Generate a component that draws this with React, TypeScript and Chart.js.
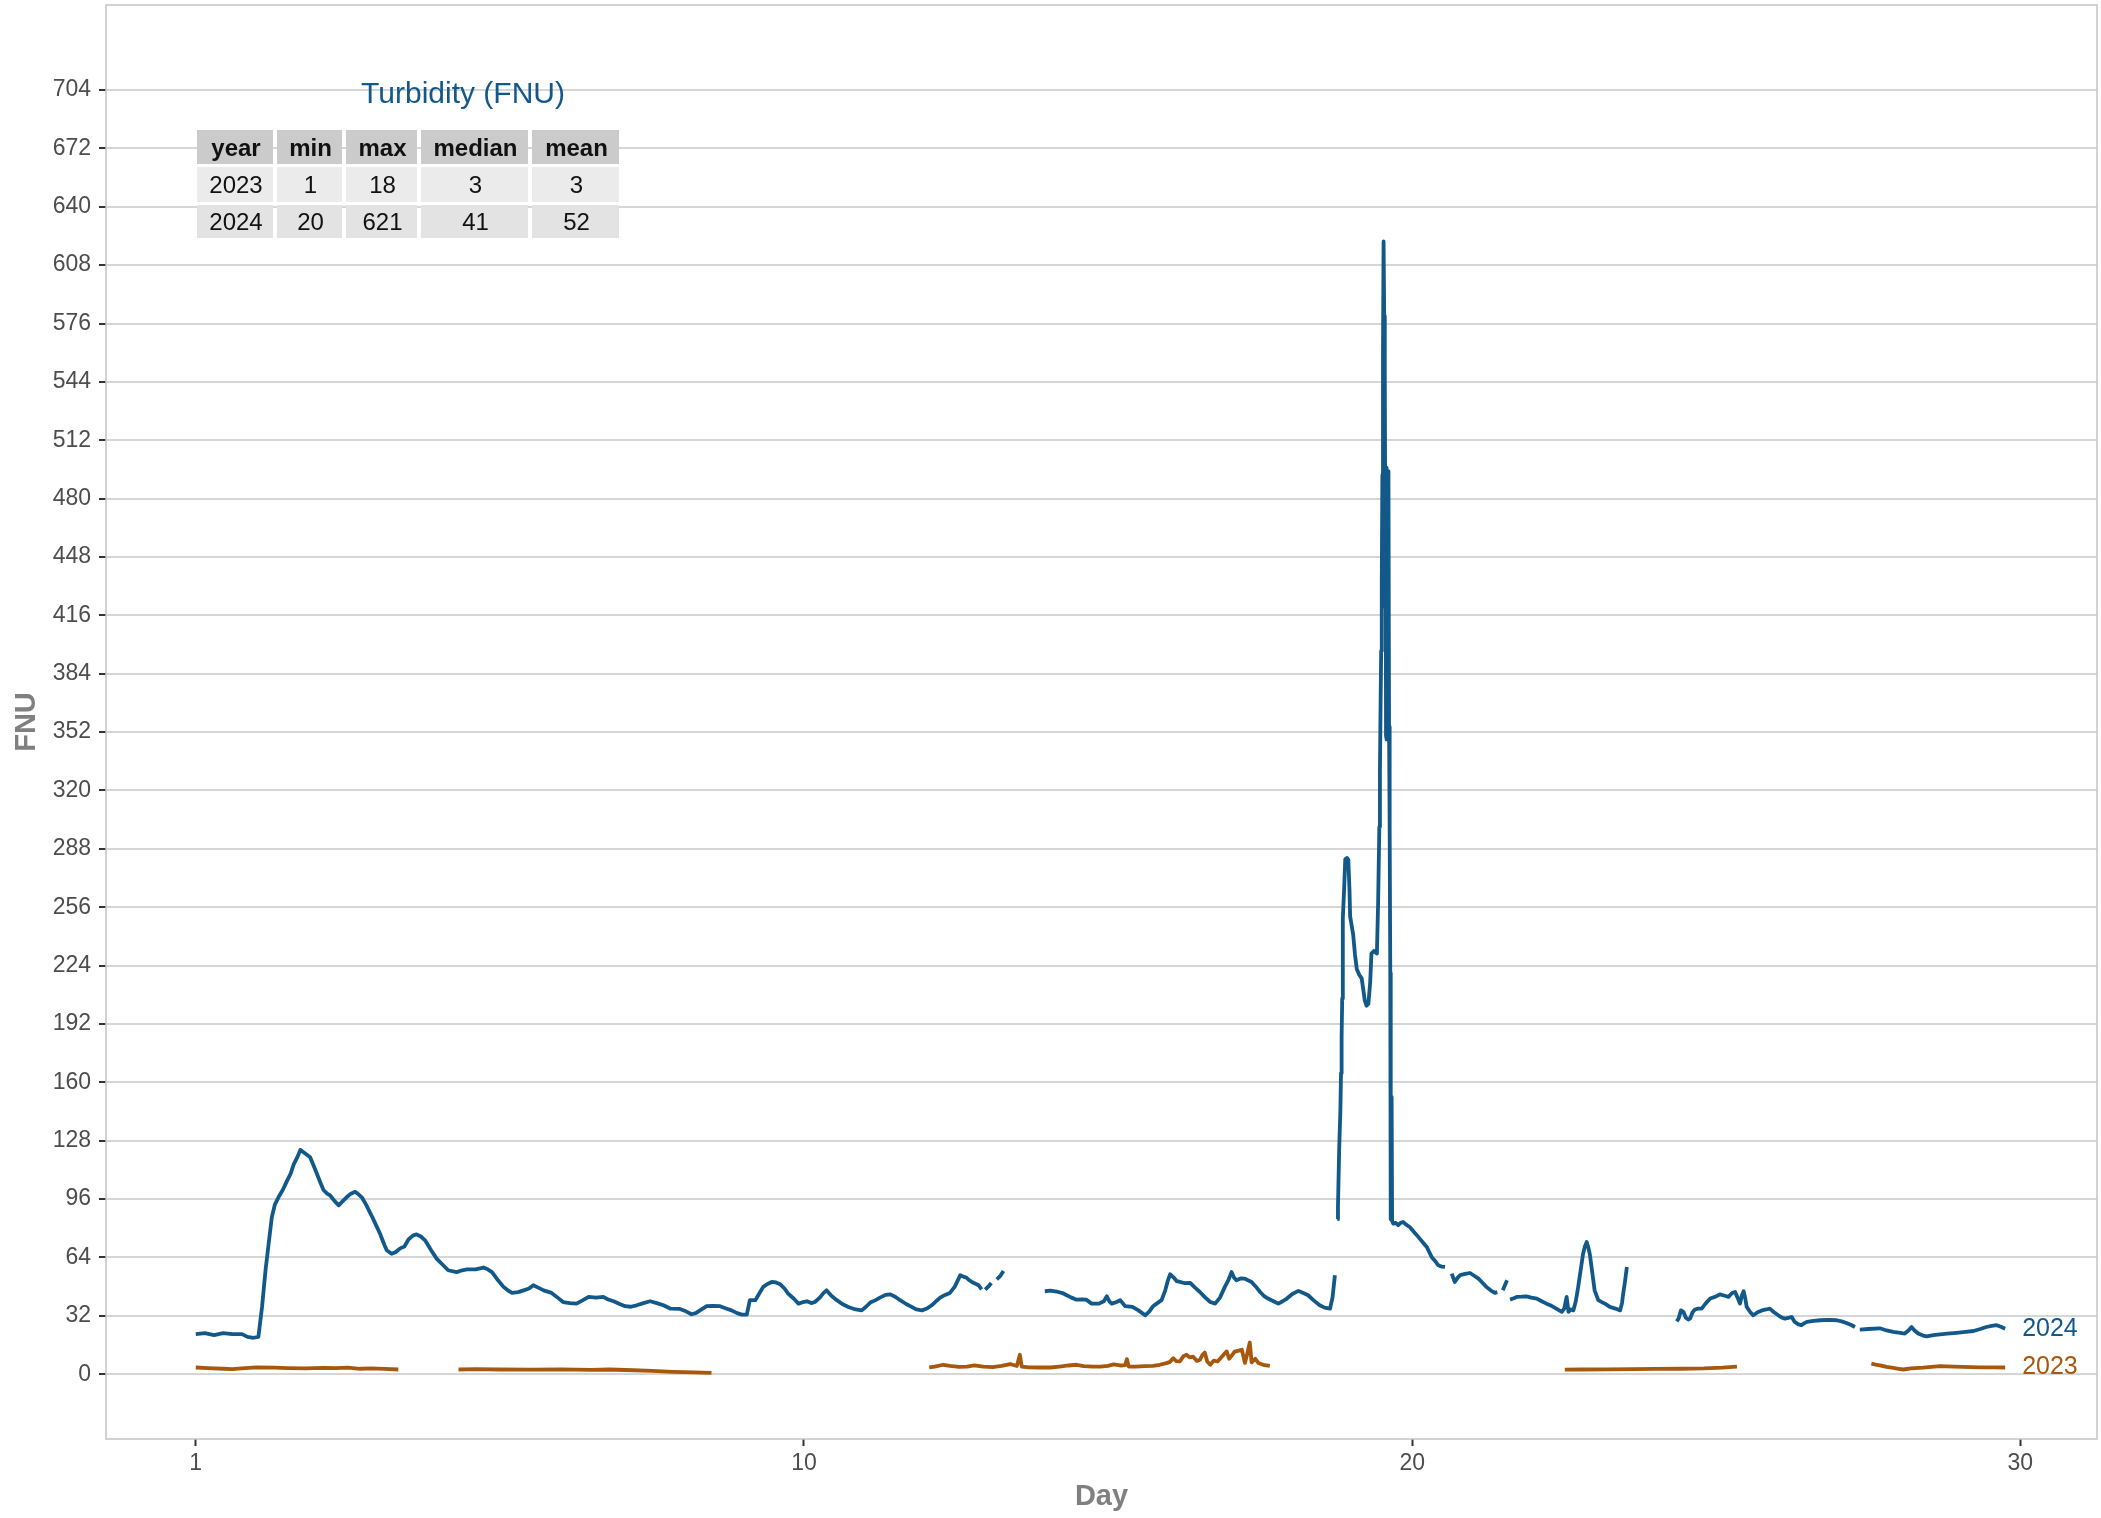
import React, { useEffect, useRef } from 'react';
import { Chart, registerables } from 'chart.js';

Chart.register(...registerables);

// ---------------- data ----------------
const X_TICK_POS = [0, 10, 20, 30];
const X_TICK_LABELS = ['1', '10', '20', '30'];
const Y_TICKS = [0, 32, 64, 96, 128, 160, 192, 224, 256, 288, 320, 352, 384, 416, 448, 480, 512, 544, 576, 608, 640, 672, 704];
const SERIES_LABELS = ['2024', '2023'];
const X_TITLE = 'Day';
const Y_TITLE = 'FNU';

// [day offset, FNU]; null = gap in record
const FNU_2024: [number, number | null][] = [
  [0, 22], [0.15, 22.5], [0.3, 21.5], [0.45, 22.5], [0.6, 22], [0.76, 22], [0.85, 20.5], [0.95, 20], [1.03, 20.5],
  [1.09, 37], [1.15, 58], [1.2, 72], [1.25, 86], [1.3, 93], [1.36, 97], [1.43, 101], [1.5, 106], [1.56, 110],
  [1.61, 115], [1.67, 119], [1.72, 123], [1.76, 122], [1.8, 121], [1.88, 119], [1.93, 115], [1.99, 110], [2.05, 105],
  [2.1, 101], [2.16, 99], [2.21, 98], [2.28, 95], [2.35, 92.6], [2.42, 95], [2.48, 97], [2.55, 99], [2.62, 100],
  [2.68, 98.5], [2.73, 97], [2.8, 93], [2.89, 87], [2.96, 82], [3.03, 77], [3.1, 71], [3.14, 68], [3.22, 66],
  [3.29, 67], [3.36, 69], [3.43, 70], [3.5, 74], [3.57, 76], [3.63, 76.7], [3.7, 75.5], [3.77, 73.4], [3.87, 68],
  [3.96, 63.4], [4.06, 60], [4.15, 57], [4.29, 56], [4.38, 57], [4.46, 57.5], [4.6, 57.5], [4.73, 58.5], [4.8, 57.5],
  [4.87, 56], [4.97, 51.5], [5.06, 47.9], [5.13, 46], [5.2, 44.6], [5.3, 45], [5.39, 46], [5.48, 47], [5.55, 48.8],
  [5.63, 47.5], [5.72, 46], [5.85, 44.6], [5.95, 42], [6.04, 39.6], [6.15, 39], [6.26, 38.7], [6.36, 40.5], [6.46, 42.4],
  [6.58, 42], [6.7, 42.4], [6.78, 41], [6.87, 40], [6.97, 38.5], [7.06, 37.3], [7.15, 37], [7.25, 37.8], [7.36, 39],
  [7.47, 40], [7.58, 39], [7.69, 37.8], [7.8, 36], [7.96, 35.8], [8.06, 34.5], [8.15, 32.9], [8.22, 33.5], [8.29, 35],
  [8.4, 37.3], [8.5, 37.5], [8.62, 37.3], [8.72, 36], [8.81, 35], [8.9, 33.5], [8.98, 32.7], [9.06, 32.7], [9.11, 40.6],
  [9.2, 40.6], [9.27, 44.5], [9.33, 47.9], [9.4, 49.5], [9.47, 50.6], [9.54, 50.3], [9.61, 49.3], [9.68, 47], [9.74, 44.2],
  [9.83, 41.5], [9.91, 38.7], [9.98, 39.5], [10.05, 40], [10.12, 39], [10.18, 39.6], [10.26, 42], [10.32, 44.5], [10.37, 46],
  [10.45, 43], [10.54, 40.6], [10.63, 38.5], [10.73, 36.9], [10.85, 35.5], [10.95, 35], [11.02, 37], [11.09, 39.3],
  [11.17, 40.5], [11.25, 42], [11.34, 43.5], [11.42, 43.8], [11.5, 42.5], [11.58, 40.6], [11.68, 38.5], [11.77, 36.9],
  [11.85, 35.5], [11.94, 35], [12.02, 36], [12.1, 37.8], [12.17, 40], [12.24, 42], [12.32, 43.5], [12.4, 44.6], [12.48, 48],
  [12.57, 54.3], [12.62, 53.5], [12.67, 53], [12.72, 51.5], [12.76, 50.6], [12.83, 49.5], [12.87, 48.8], [12.92, 46.5],
  [12.95, null], [12.98, 46.4], [13.03, 48], [13.08, 50], [13.12, null], [13.17, 52], [13.23, 54], [13.28, 56.6],
  [13.6, null],
  [13.96, 45.5], [14.05, 45.8], [14.18, 45.1], [14.25, 44.5], [14.32, 43.3], [14.4, 42], [14.48, 40.9], [14.57, 41],
  [14.64, 40.9], [14.73, 38.7], [14.85, 38.7], [14.93, 40], [14.98, 42.7], [15.02, 40], [15.06, 38.7], [15.13, 39.5],
  [15.2, 40.6], [15.24, 39], [15.28, 37.3], [15.4, 36.9], [15.5, 35], [15.61, 32.3], [15.68, 34.5], [15.74, 37.3],
  [15.81, 39], [15.88, 40.6], [15.94, 46], [15.98, 51], [16.02, 54.8], [16.08, 53], [16.13, 51], [16.18, 50.6],
  [16.25, 50], [16.35, 50.1], [16.43, 47.5], [16.51, 45.1], [16.6, 42], [16.68, 39.6], [16.76, 38.7], [16.84, 42],
  [16.92, 47.9], [16.97, 51], [17.03, 56], [17.07, 53], [17.11, 51.5], [17.18, 52.5], [17.25, 52.4], [17.3, 51.5],
  [17.36, 50.6], [17.43, 48], [17.5, 45.1], [17.56, 43], [17.63, 41.5], [17.72, 40], [17.8, 38.7], [17.87, 40],
  [17.94, 41.5], [18.03, 44], [18.13, 45.7], [18.21, 44.5], [18.29, 43.3], [18.38, 40.5], [18.48, 37.8], [18.56, 36.5],
  [18.65, 36], [18.69, 42], [18.73, 54.3], [18.75, null],
  [18.77, 85], [18.78, 92], [18.8, 123.5], [18.82, 145], [18.83, 165], [18.84, 185], [18.85, 206], [18.86, 250],
  [18.88, 265], [18.9, 282.4], [18.93, 283], [18.95, 282], [18.97, 265], [18.98, 251], [19.01, 245], [19.03, 241],
  [19.06, 230], [19.09, 222], [19.13, 219], [19.17, 217], [19.2, 210], [19.22, 205], [19.25, 202], [19.28, 203],
  [19.31, 215], [19.33, 230.6], [19.37, 232], [19.42, 230.6], [19.44, 258], [19.46, 300], [19.47, 331], [19.48, 365],
  [19.49, 396.5], [19.5, 434.5], [19.51, 493], [19.52, 560], [19.53, 621], [19.54, 580], [19.55, 548.6], [19.555, 497],
  [19.56, 420], [19.565, 497], [19.57, 350], [19.575, 497], [19.58, 400], [19.585, 348], [19.59, 480], [19.6, 350],
  [19.61, 495], [19.62, 355], [19.63, 300], [19.64, 220], [19.645, 152], [19.65, 85], [19.655, 152], [19.66, 90],
  [19.665, 150], [19.67, 84], [19.69, 82.6], [19.73, 83], [19.77, 81.7], [19.81, 83], [19.85, 83.5], [19.9, 82],
  [19.96, 80.7], [20.03, 78], [20.1, 75.3], [20.17, 72.5], [20.24, 69.8], [20.28, 67], [20.32, 64.3], [20.38, 62],
  [20.43, 59.7], [20.48, 59], [20.54, 58.8], [20.6, null],
  [20.65, 55.2], [20.7, 50.6], [20.75, 53], [20.79, 54.3], [20.87, 55], [20.95, 55.5], [21.02, 54], [21.09, 52.4],
  [21.16, 50], [21.22, 47.9], [21.29, 46], [21.36, 44.6], [21.4, 45], [21.45, null],
  [21.49, 46], [21.56, 51.5], [21.58, null],
  [21.61, 40.9], [21.66, 41.5], [21.72, 42.4], [21.8, 42.5], [21.88, 42.7], [21.96, 42], [22.05, 41.5], [22.13, 40],
  [22.21, 38.7], [22.29, 37.5], [22.37, 36], [22.46, 34.2], [22.5, 36], [22.54, 42.4], [22.57, 34.2], [22.61, 35.5],
  [22.65, 35], [22.69, 40], [22.73, 47.9], [22.77, 57], [22.81, 66], [22.84, 70], [22.87, 72.5], [22.9, 69],
  [22.92, 66], [22.96, 56], [23, 46], [23.06, 40.6], [23.12, 39.5], [23.17, 38.7], [23.25, 36.9], [23.34, 36],
  [23.42, 35], [23.45, 39], [23.47, 44.2], [23.5, 51], [23.53, 58.8], [23.9, null],
  [24.35, 29], [24.38, 30.5], [24.42, 35], [24.46, 34.2], [24.5, 31], [24.54, 30], [24.57, 30.5], [24.61, 34],
  [24.65, 35.5], [24.7, 36], [24.76, 36], [24.83, 39], [24.9, 41.5], [24.98, 42.4], [25.06, 43.8], [25.14, 43],
  [25.2, 42.4], [25.26, 44.5], [25.31, 45.1], [25.35, 42], [25.39, 38.7], [25.42, 43], [25.45, 45.5], [25.48, 41],
  [25.5, 36.9], [25.56, 34], [25.61, 32.3], [25.68, 34], [25.75, 35], [25.82, 35.5], [25.88, 36], [25.95, 34],
  [26.02, 32.3], [26.08, 31], [26.13, 30.5], [26.2, 31], [26.24, 31.4], [26.29, 28.7], [26.34, 27.5], [26.4, 26.9],
  [26.45, 28], [26.49, 28.7], [26.6, 29.2], [26.71, 29.6], [26.85, 29.8], [26.98, 29.6], [27.06, 29], [27.14, 28.1],
  [27.22, 27], [27.28, 25.9], [27.32, null],
  [27.36, 24.5], [27.5, 24.8], [27.69, 25.2], [27.8, 24], [27.91, 23.2], [28, 22.8], [28.1, 22.3], [28.16, 24],
  [28.21, 25.9], [28.26, 24], [28.32, 22.3], [28.4, 21.2], [28.46, 20.8], [28.57, 21.5], [28.68, 21.9], [28.8, 22.3],
  [28.95, 22.7], [29.1, 23.2], [29.23, 23.7], [29.34, 24.8], [29.44, 25.9], [29.53, 26.5], [29.61, 26.9], [29.68, 26],
  [29.75, 25],
];

const FNU_2023: [number, number | null][] = [
  [0, 3.7], [0.2, 3.4], [0.45, 3], [0.6, 2.8], [0.75, 3.2], [1, 3.8], [1.3, 3.6], [1.5, 3.4], [1.8, 3.2], [2.1, 3.5],
  [2.3, 3.3], [2.5, 3.6], [2.7, 3], [2.89, 3.2], [3.1, 2.9], [3.33, 2.6], [3.8, null],
  [4.32, 2.6], [4.6, 2.8], [5, 2.6], [5.5, 2.5], [6, 2.7], [6.5, 2.4], [6.8, 2.6], [7.2, 2.2], [7.5, 1.8], [7.85, 1.3],
  [8.2, 1], [8.48, 0.7], [10, null],
  [12.06, 3.7], [12.15, 4.2], [12.29, 5.2], [12.4, 4.6], [12.55, 4], [12.68, 4.2], [12.8, 4.8], [12.95, 4.2], [13.1, 3.9],
  [13.25, 4.6], [13.39, 5.6], [13.5, 4.5], [13.55, 10.7], [13.58, 4.2], [13.7, 3.8], [13.85, 3.7], [14.05, 3.7],
  [14.2, 4.2], [14.35, 4.8], [14.48, 5.2], [14.6, 4.5], [14.75, 4.2], [14.87, 4.2], [15, 4.6], [15.09, 5.4], [15.2, 4.8],
  [15.28, 5], [15.31, 8.3], [15.34, 4.2], [15.45, 4.2], [15.6, 4.5], [15.74, 4.6], [15.85, 5.2], [15.96, 6.1],
  [16.02, 6.8], [16.07, 8.8], [16.12, 7.2], [16.18, 7], [16.24, 9.9], [16.29, 10.7], [16.34, 9.2], [16.4, 9.6],
  [16.46, 7.3], [16.51, 7.9], [16.55, 10.5], [16.59, 11.9], [16.63, 7], [16.68, 5.2], [16.74, 7.5], [16.8, 7],
  [16.87, 9.6], [16.92, 11.5], [16.95, 12.5], [16.99, 8.5], [17.04, 10.5], [17.08, 12.4], [17.13, 12.8], [17.2, 13.4],
  [17.25, 6.2], [17.28, 10], [17.33, 17.4], [17.36, 6.5], [17.42, 8.5], [17.47, 6.2], [17.55, 5.2], [17.66, 4.6],
  [20, null],
  [22.51, 2.5], [22.8, 2.6], [23.2, 2.7], [23.6, 2.8], [24, 2.9], [24.4, 3], [24.8, 3.2], [25.1, 3.6], [25.34, 4.2],
  [26.5, null],
  [27.55, 5.8], [27.62, 5.3], [27.69, 4.9], [27.8, 4], [27.91, 3.5], [28, 3], [28.08, 2.6], [28.2, 3.2], [28.4, 3.6],
  [28.68, 4.4], [28.9, 4.2], [29.06, 4], [29.33, 3.8], [29.55, 3.8], [29.75, 3.7],
];

const TABLE_TITLE = 'Turbidity (FNU)';
const TABLE_HEADER = ['year', 'min', 'max', 'median', 'mean'];
const TABLE_ROWS = [
  ['2023', '1', '18', '3', '3'],
  ['2024', '20', '621', '41', '52'],
];

// ---------------- style ----------------
const W = 2101;
const H = 1518;
const BLUE = '#12598a';
const ORANGE = '#a8580c';
const FONT = '"Liberation Sans", Arial, Helvetica, sans-serif';

const TABLE_COLS: [number, number][] = [[197, 273], [277, 342], [346, 417], [421, 528], [532, 619]];
const TABLE_ROW_Y: [number, number][] = [[130, 164], [167, 202], [205, 238]];
const TABLE_FILLS = ['#cbcbcb', '#ebebeb', '#e3e3e3'];

const panelPlugin = {
  id: 'panelBorder',
  afterDraw(chart: any) {
    const { ctx, chartArea: a } = chart;
    ctx.save();
    ctx.strokeStyle = '#c4c4c4';
    ctx.lineWidth = 1.5;
    ctx.strokeRect(a.left, a.top, a.right - a.left, a.bottom - a.top);
    ctx.restore();
  },
};

const endLabelPlugin = {
  id: 'endLabels',
  afterDatasetsDraw(chart: any) {
    const { ctx } = chart;
    const xs = chart.scales.x;
    const ys = chart.scales.y;
    ctx.save();
    ctx.font = `25px ${FONT}`;
    ctx.textAlign = 'left';
    ctx.textBaseline = 'middle';
    chart.data.datasets.forEach((ds: any, i: number) => {
      const pts = ds.data.filter((p: any) => p.y !== null);
      const last = pts[pts.length - 1];
      ctx.fillStyle = ds.borderColor;
      ctx.fillText(SERIES_LABELS[i], xs.getPixelForValue(last.x) + 17, ys.getPixelForValue(last.y));
    });
    ctx.restore();
  },
};

const tablePlugin = {
  id: 'statsTable',
  afterDraw(chart: any) {
    const { ctx } = chart;
    ctx.save();
    ctx.font = `30px ${FONT}`;
    ctx.fillStyle = BLUE;
    ctx.textAlign = 'center';
    ctx.textBaseline = 'middle';
    ctx.fillText(TABLE_TITLE, 463, 95);
    const rows = [TABLE_HEADER, ...TABLE_ROWS];
    rows.forEach((row, r) => {
      const [y0, y1] = TABLE_ROW_Y[r];
      row.forEach((txt, c) => {
        const [x0, x1] = TABLE_COLS[c];
        ctx.fillStyle = TABLE_FILLS[r];
        ctx.fillRect(x0, y0, x1 - x0, y1 - y0);
        ctx.fillStyle = '#111111';
        ctx.font = r === 0 ? `bold 24px ${FONT}` : `24px ${FONT}`;
        ctx.fillText(txt, (x0 + x1) / 2 + 1, (y0 + y1) / 2 + 2);
      });
    });
    ctx.restore();
  },
};

export default function App() {
  const ref = useRef<HTMLCanvasElement | null>(null);

  useEffect(() => {
    if (!ref.current) return;
    const toPts = (arr: [number, number | null][]) => arr.map(([x, y]) => ({ x, y }));
    const chart = new Chart(ref.current, {
      type: 'line',
      data: {
        datasets: [
          {
            label: SERIES_LABELS[0],
            data: toPts(FNU_2024) as any,
            borderColor: BLUE,
            backgroundColor: BLUE,
            borderWidth: 3.8,
            pointRadius: 0,
            tension: 0,
            spanGaps: false,
            borderJoinStyle: 'round',
          },
          {
            label: SERIES_LABELS[1],
            data: toPts(FNU_2023) as any,
            borderColor: ORANGE,
            backgroundColor: ORANGE,
            borderWidth: 3.8,
            pointRadius: 0,
            tension: 0,
            spanGaps: false,
            borderJoinStyle: 'round',
          },
        ],
      },
      options: {
        animation: false,
        responsive: false,
        maintainAspectRatio: false,
        devicePixelRatio: 1,
        events: [],
        layout: { padding: { top: 5, right: 4, left: 0, bottom: 0 } },
        plugins: {
          legend: { display: false },
          tooltip: { enabled: false },
          title: { display: false },
        },
        scales: {
          x: {
            type: 'linear',
            min: -1.476,
            max: 31.26,
            afterBuildTicks: (s: any) => {
              s.ticks = X_TICK_POS.map((v) => ({ value: v }));
            },
            afterFit: (s: any) => {
              s.height = 79;
              s.paddingLeft = 0;
              s.paddingRight = 0;
              s.paddingTop = 0;
              s.paddingBottom = 0;
            },
            ticks: {
              autoSkip: false,
              maxRotation: 0,
              padding: 4,
              color: '#4d4d4d',
              font: { family: FONT, size: 23 },
              callback: (_v: any, i: number) => X_TICK_LABELS[i],
            },
            grid: {
              drawOnChartArea: false,
              drawTicks: true,
              tickLength: 7,
              tickColor: '#333333',
              tickWidth: 2,
            },
            border: { display: false },
            title: {
              display: true,
              text: X_TITLE,
              color: '#808080',
              font: { family: FONT, size: 29, weight: 'bold' },
              padding: { top: 0, bottom: 4 },
            },
          },
          y: {
            type: 'linear',
            min: -35.5,
            max: 750.6,
            afterBuildTicks: (s: any) => {
              s.ticks = Y_TICKS.map((v) => ({ value: v }));
            },
            afterFit: (s: any) => {
              s.width = 106;
              s.paddingTop = 0;
              s.paddingBottom = 0;
              s.paddingLeft = 0;
              s.paddingRight = 0;
            },
            ticks: {
              autoSkip: false,
              padding: 8,
              color: '#4d4d4d',
              font: { family: FONT, size: 23 },
              callback: (v: any) => String(v),
            },
            grid: {
              drawOnChartArea: true,
              color: '#d6d6d6',
              lineWidth: 2,
              drawTicks: true,
              tickLength: 7,
              tickColor: '#333333',
              tickWidth: 2,
            },
            border: { display: false },
            title: {
              display: true,
              text: Y_TITLE,
              color: '#808080',
              font: { family: FONT, size: 29, weight: 'bold' },
              padding: { top: 10, bottom: 0 },
            },
          },
        },
      } as any,
      plugins: [panelPlugin, endLabelPlugin, tablePlugin],
    });
    return () => chart.destroy();
  }, []);

  return (
    <div style={{ position: 'absolute', left: 0, top: 0, width: W, height: H, background: '#ffffff' }}>
      <canvas ref={ref} width={W} height={H} style={{ display: 'block', width: W, height: H }} />
    </div>
  );
}
